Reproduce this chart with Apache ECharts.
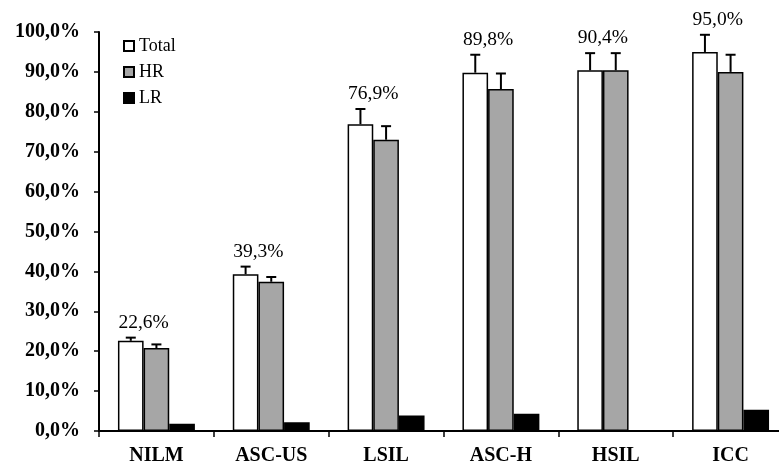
<!DOCTYPE html>
<html>
<head>
<meta charset="utf-8">
<script src="https://cdn.jsdelivr.net/npm/echarts@6/dist/echarts.min.js"></script>
<style>
  html, body { margin: 0; padding: 0; background: #fff; overflow: hidden; }
  /* the category axis runs a little past the right edge of the window */
  #chart { width: 800px; height: 466px; }
</style>
</head>
<body>
<div id="chart"></div>
<script>
// Cytology categories
const categories = ['NILM', 'ASC-US', 'LSIL', 'ASC-H', 'HSIL', 'ICC'];
// Positivity rates (%)
const totalValues = [22.6, 39.3, 76.9, 89.8, 90.4, 95.0];
const hrValues = [20.8, 37.4, 73.0, 85.7, 90.4, 90.0];
const lrValues = [1.8, 2.2, 3.9, 4.3, 0, 5.3];
// Upper ends of the error bars (%)
const totalUpper = [23.4, 41.2, 80.7, 94.3, 94.7, 99.3];
const hrUpper = [21.7, 38.6, 76.4, 89.6, 94.7, 94.3];
// Y axis ticks
const yMin = 0, yMax = 100, yStep = 10;

const FONT = '"Liberation Serif", "Times New Roman", serif';
const CAT_GAP = 0.33;   // share of a category left empty around the bar group
const N_BARS = 3;

const fmt = v => v.toFixed(1).replace('.', ',') + '%';

function errorSeries(values, upper, slot, withLabel) {
  return {
    type: 'custom',
    z: 5,
    silent: true,
    encode: { x: 0, y: [1, 2] },
    data: values.map((v, i) => [i, v, upper[i]]),
    renderItem: function (params, api) {
      const i = api.value(0);
      const base = api.coord([i, api.value(1)]);
      const top = api.coord([i, api.value(2)]);
      const catW = api.size([1, 0])[0];
      const barW = catW * (1 - CAT_GAP) / N_BARS;
      const x = base[0] + slot * barW;
      const children = [
        { type: 'line', shape: { x1: x, y1: base[1], x2: x, y2: top[1] },
          style: { stroke: '#000', lineWidth: 2 } },
        { type: 'line', shape: { x1: x - 5, y1: top[1], x2: x + 5, y2: top[1] },
          style: { stroke: '#000', lineWidth: 2 } }
      ];
      if (withLabel) {
        children.push({
          type: 'text',
          x: x + barW / 2,
          y: top[1] - 15,
          style: {
            text: fmt(api.value(1)),
            font: '19.5px ' + FONT,
            fill: '#000',
            align: 'center',
            verticalAlign: 'middle'
          }
        });
      }
      return { type: 'group', children: children };
    }
  };
}

const chart = echarts.init(document.getElementById('chart'), null, { renderer: 'canvas' });

chart.setOption({
  animation: false,
  backgroundColor: '#fff',
  grid: { left: 99, top: 32, width: 689, height: 399, containLabel: false },
  legend: {
    data: ['Total', 'HR', 'LR'],
    orient: 'vertical',
    left: 118,
    top: 32,
    icon: 'rect',
    itemWidth: 10,
    itemHeight: 10,
    itemGap: 8,
    textStyle: { fontFamily: FONT, fontSize: 18, color: '#000', lineHeight: 18 }
  },
  xAxis: {
    type: 'category',
    data: categories,
    axisLine: { lineStyle: { color: '#000', width: 2 } },
    axisTick: { show: true, length: 6, lineStyle: { color: '#000', width: 1.5 } },
    axisLabel: { fontFamily: FONT, fontSize: 20, fontWeight: 'bold', color: '#000', margin: 15 }
  },
  yAxis: {
    type: 'value',
    min: yMin,
    max: yMax,
    interval: yStep,
    splitLine: { show: false },
    axisLine: { show: true, lineStyle: { color: '#000', width: 2 } },
    axisTick: { show: true, length: 5, lineStyle: { color: '#000', width: 1.5 } },
    axisLabel: {
      fontFamily: FONT, fontSize: 20, fontWeight: 'bold', color: '#000', margin: 19,
      formatter: fmt
    }
  },
  series: [
    {
      name: 'Total', type: 'bar', data: totalValues,
      barGap: '0%', barCategoryGap: (CAT_GAP * 100) + '%',
      itemStyle: { color: '#fff', borderColor: '#000', borderWidth: 1.5 }
    },
    {
      name: 'HR', type: 'bar', data: hrValues,
      itemStyle: { color: '#a6a6a6', borderColor: '#000', borderWidth: 1.5 }
    },
    {
      name: 'LR', type: 'bar', data: lrValues,
      itemStyle: { color: '#000', borderColor: '#000', borderWidth: 1.5 }
    },
    errorSeries(totalValues, totalUpper, -1, true),
    errorSeries(hrValues, hrUpper, 0, false)
  ]
});
</script>
</body>
</html>
